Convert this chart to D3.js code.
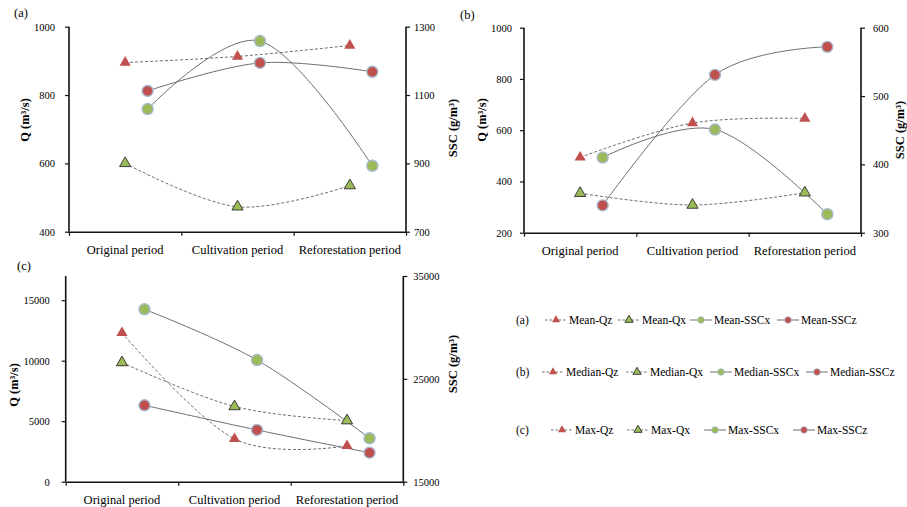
<!DOCTYPE html>
<html>
<head>
<meta charset="utf-8">
<script src="https://cdn.jsdelivr.net/npm/d3@7"></script>
<style>
  body { margin: 0; background: #fff; }
  text { font-family: "Liberation Serif", "Times New Roman", serif; fill: #000; }
</style>
</head>
<body>
<div id="chart"></div>
<script>

// categories
var periods = ["Original period", "Cultivation period", "Reforestation period"];

// (a) mean values
var meanQz = [895, 913, 945];
var meanQx = [600, 473, 535];
var meanSSCx = [1059, 1258, 893];
var meanSSCz = [1112, 1194, 1168];

// (b) median values
var medianQz = [494, 628, 646];
var medianQx = [354, 308, 356];
var medianSSCx = [410, 451, 327];
var medianSSCz = [340, 531, 572];

// (c) max values
var maxQz = [12300, 3540, 2960];
var maxQx = [9850, 6215, 5050];
var maxSSCx = [31760, 26830, 19220];
var maxSSCz = [22430, 20030, 17820];

// axis ticks
var ticksQa = [400, 600, 800, 1000], ticksSa = [700, 900, 1100, 1300];
var ticksQb = [200, 400, 600, 800, 1000], ticksSb = [300, 400, 500, 600];
var ticksQc = [0, 5000, 10000, 15000], ticksSc = [15000, 25000, 35000];

var RED = "#c0504d", GREEN = "#9bbb59", LINE = "#6e6e6e", RING = "#a7b9cf";

var svg = d3.select("#chart").append("svg")
  .attr("width", 907).attr("height", 507);

function triangle(g, x, y, fill, stroke, size) {
  var s = size || 11;
  g.append("path")
    .attr("d", d3.symbol().type(d3.symbolTriangle).size(s * s * 0.45)())
    .attr("transform", "translate(" + x + "," + y + ")")
    .attr("fill", fill)
    .attr("stroke", stroke)
    .attr("stroke-width", stroke == "none" ? 0 : 0.9);
}

function drawPanel(p) {
  var g = svg.append("g");

  var x = d3.scaleBand().domain(periods).range([p.x0, p.x1]);
  var bw = x.bandwidth();
  var xq = function(i) { return x(periods[i]) + bw / 2; };
  // secondary series sit a little right of the category centre
  var xs = function(i) { return x(periods[i]) + bw / 2 + bw * 0.2; };

  var yL = d3.scaleLinear().domain(p.domL).range([p.y1, p.y0]);
  var yR = d3.scaleLinear().domain(p.domR).range([p.y1, p.y0]);
  var fmt = d3.format("d");

  // left axis
  var la = g.append("g").attr("transform", "translate(" + p.x0 + ",0)")
    .call(d3.axisLeft(yL).tickValues(p.ticksL).tickFormat(fmt).tickSize(4).tickSizeOuter(0).tickPadding(p.padL));
  // right axis
  var ra = g.append("g").attr("transform", "translate(" + p.x1 + ",0)")
    .call(d3.axisRight(yR).tickValues(p.ticksR).tickFormat(fmt).tickSize(4).tickSizeOuter(0).tickPadding(p.padR));
  [la, ra].forEach(function(a) {
    a.select(".domain").attr("stroke", "#111").attr("stroke-width", 1.6);
    a.selectAll(".tick line").attr("stroke", "#111").attr("stroke-width", 1.2);
    a.selectAll("text").style("font-family", "'Liberation Serif', serif").style("font-size", "10.5px").attr("fill", "#222");
  });
  la.select(".domain").attr("d", "M0," + p.y1 + "V" + p.y0);
  ra.select(".domain").attr("d", "M0," + p.y1 + "V" + p.y0);

  // bottom axis: ticks at band boundaries, labels at centres
  var bx = d3.scaleLinear().domain([0, 3]).range([p.x0, p.x1]);
  var ba = g.append("g").attr("transform", "translate(0," + p.y1 + ")")
    .call(d3.axisBottom(bx).tickValues([0, 1, 2, 3]).tickSize(4).tickSizeOuter(0).tickFormat(""));
  ba.select(".domain").attr("stroke", "#111").attr("stroke-width", 1.6);
  ba.selectAll(".tick line").attr("stroke", "#111").attr("stroke-width", 1.2);
  var bl = g.append("g").attr("transform", "translate(0," + p.y1 + ")")
    .call(d3.axisBottom(x).tickSize(0).tickPadding(13));
  bl.select(".domain").remove();
  bl.selectAll("text").style("font-family", "'Liberation Serif', serif").style("font-size", "12.5px");

  // lines
  var curve = d3.curveCardinal.tension(0);
  function series(vals, xf, y, dashed) {
    g.append("path")
      .datum(vals)
      .attr("fill", "none")
      .attr("stroke", LINE)
      .attr("stroke-width", 1)
      .attr("stroke-dasharray", dashed ? "3,2" : null)
      .attr("d", d3.line().curve(curve)
        .x(function(d, i) { return xf(i); })
        .y(function(d) { return y(d); }));
  }
  series(p.qz, xq, yL, true);
  series(p.qx, xq, yL, true);
  series(p.sx, xs, yR, false);
  series(p.sz, xs, yR, false);

  // markers
  p.qz.forEach(function(v, i) { triangle(g, xq(i), yL(v), RED, "none"); });
  p.qx.forEach(function(v, i) { triangle(g, xq(i), yL(v), GREEN, "#2b2b2b"); });
  [[p.sx, GREEN], [p.sz, RED]].forEach(function(s) {
    g.selectAll(null).data(s[0]).enter().append("circle")
      .attr("cx", function(d, i) { return xs(i); })
      .attr("cy", function(d) { return yR(d); })
      .attr("r", 5.5)
      .attr("fill", s[1])
      .attr("stroke", RING)
      .attr("stroke-width", 1.4);
  });

  // labels
  g.append("text").attr("x", p.tagX).attr("y", p.tagY)
    .style("font-size", "12.5px").text(p.tag);
  g.append("text")
    .attr("transform", "translate(" + p.qLX + "," + p.qLY + ") rotate(-90)")
    .attr("text-anchor", "middle")
    .style("font-size", "12.5px").style("font-weight", "bold")
    .text("Q (m³/s)");
  g.append("text")
    .attr("transform", "translate(" + p.sLX + "," + p.sLY + ") rotate(-90)")
    .attr("text-anchor", "middle")
    .style("font-size", "12.5px").style("font-weight", "bold")
    .text("SSC (g/m³)");
}

drawPanel({
  x0: 69, x1: 406, y0: 26.7, y1: 231.7,
  domL: [400, 1000], domR: [700, 1300], ticksL: ticksQa, ticksR: ticksSa,
  padL: 10, padR: 4,
  qz: meanQz, qx: meanQx, sx: meanSSCx, sz: meanSSCz,
  tag: "(a)", tagX: 14, tagY: 17, qLX: 29, qLY: 120, sLX: 457, sLY: 128
});
drawPanel({
  x0: 524, x1: 861, y0: 27.7, y1: 232.7,
  domL: [200, 1000], domR: [300, 600], ticksL: ticksQb, ticksR: ticksSb,
  padL: 8, padR: 8,
  qz: medianQz, qx: medianQx, sx: medianSSCx, sz: medianSSCz,
  tag: "(b)", tagX: 460, tagY: 19, qLX: 486, qLY: 120, sLX: 904, sLY: 130
});
drawPanel({
  x0: 65.7, x1: 403.3, y0: 276, y1: 481.7,
  domL: [0, 17000], domR: [15000, 35000], ticksL: ticksQc, ticksR: ticksSc,
  padL: 12, padR: 6,
  qz: maxQz, qx: maxQx, sx: maxSSCx, sz: maxSSCz,
  tag: "(c)", tagX: 17, tagY: 270, qLX: 18, qLY: 385, sLX: 457, sLY: 364
});

// legend
var legendTags = ["(a)", "(b)", "(c)"];
var legendNames = [
  ["Mean-Qz", "Mean-Qx", "Mean-SSCx", "Mean-SSCz"],
  ["Median-Qz", "Median-Qx", "Median-SSCx", "Median-SSCz"],
  ["Max-Qz", "Max-Qx", "Max-SSCx", "Max-SSCz"]
];
var legendRows = [
  { y: 320, tagX: 516, lines: [545, 618, 690, 777] },
  { y: 372, tagX: 516, lines: [542, 626, 710, 806] },
  { y: 430, tagX: 516, lines: [551, 627, 704, 793] }
];
var lg = svg.append("g");
legendRows.forEach(function(r, ri) {
  lg.append("text").attr("x", r.tagX).attr("y", r.y + 4)
    .style("font-size", "11.5px").text(legendTags[ri]);
  r.lines.forEach(function(lx, k) {
    var dashed = k < 2;
    lg.append("line").attr("x1", lx).attr("x2", lx + 22)
      .attr("y1", r.y).attr("y2", r.y)
      .attr("stroke", LINE).attr("stroke-width", 1)
      .attr("stroke-dasharray", dashed ? "2.5,2" : null);
    var mx = lx + 11;
    if (k == 0) triangle(lg, mx, r.y, RED, "none", 8);
    if (k == 1) triangle(lg, mx, r.y, GREEN, "#2b2b2b", 8);
    if (k >= 2) lg.append("circle").attr("cx", mx).attr("cy", r.y).attr("r", 3.3)
      .attr("fill", k == 2 ? GREEN : RED).attr("stroke", RING).attr("stroke-width", 0.8);
    lg.append("text").attr("x", lx + 24).attr("y", r.y + 4)
      .style("font-size", "11.5px").text(legendNames[ri][k]);
  });
});

</script>
</body>
</html>
